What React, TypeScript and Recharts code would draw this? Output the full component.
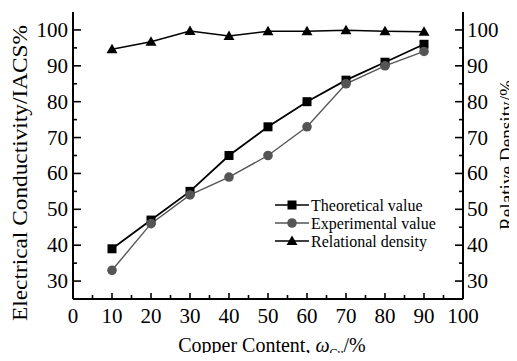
import React from "react";
import { LineChart, Line, XAxis, YAxis, Legend } from "recharts";

// copper content (x) and the three measured series
const copperContent = [10, 20, 30, 40, 50, 60, 70, 80, 90];
const theoreticalValue = [39, 47, 55, 65, 73, 80, 86, 91, 96];
const experimentalValue = [33, 46, 54, 59, 65, 73, 85, 90, 94];
const relationalDensity = [94.6, 96.7, 99.7, 98.3, 99.6, 99.6, 99.9, 99.6, 99.5];

// ticks (majors every 10, minors every 5)
const xTicks = [0, 5, 10, 15, 20, 25, 30, 35, 40, 45, 50, 55, 60, 65, 70, 75, 80, 85, 90, 95, 100];
const yTicks = [30, 35, 40, 45, 50, 55, 60, 65, 70, 75, 80, 85, 90, 95, 100];

const FONT = "'Liberation Serif', 'Times New Roman', Times, serif";
const GRAY = "#555555";
const txt = { fontFamily: FONT };

const data = copperContent.map((c, i) => ({
  cu: c,
  theo: theoreticalValue[i],
  exp: experimentalValue[i],
  rel: relationalDensity[i],
}));

const legendItems = [
  { name: "Theoretical value", color: "#000", shape: "square" },
  { name: "Experimental value", color: GRAY, shape: "circle" },
  { name: "Relational density", color: "#000", shape: "triangle" },
];

function marker(shape: string, cx: number, cy: number, color: string, key?: any) {
  if (shape === "square")
    return <rect key={key} x={cx - 4.5} y={cy - 4.5} width={9} height={9} fill={color} />;
  if (shape === "circle") return <circle key={key} cx={cx} cy={cy} r={4.8} fill={color} />;
  return (
    <polygon
      key={key}
      points={`${cx},${cy - 5.5} ${cx - 5.5},${cy + 4} ${cx + 5.5},${cy + 4}`}
      fill={color}
    />
  );
}

const XTick = (props: any) => {
  const { x, y, payload } = props;
  const major = payload.value % 10 === 0;
  return (
    <g>
      <line x1={x} y1={y} x2={x} y2={y - (major ? 6 : 4)} stroke="#000" strokeWidth={1.6} />
      {major && (
        <text x={x} y={y + 24} textAnchor="middle" fontSize={21} style={txt} fill="#000">
          {payload.value}
        </text>
      )}
    </g>
  );
};

const LeftTick = (props: any) => {
  const { x, y, payload } = props;
  const major = payload.value % 10 === 0;
  return (
    <g>
      <line x1={x} y1={y} x2={x + (major ? 8 : 4)} y2={y} stroke="#000" strokeWidth={1.6} />
      {major && (
        <text x={x - 5} y={y + 7} textAnchor="end" fontSize={21} style={txt} fill="#000">
          {payload.value}
        </text>
      )}
    </g>
  );
};

const RightTick = (props: any) => {
  const { x, y, payload } = props;
  const major = payload.value % 10 === 0;
  return (
    <g>
      <line x1={x} y1={y} x2={x - (major ? 8 : 4)} y2={y} stroke="#000" strokeWidth={1.6} />
      {major && (
        <text x={x + 4} y={y + 7} textAnchor="start" fontSize={21} style={txt} fill="#000">
          {payload.value}
        </text>
      )}
    </g>
  );
};

const LegendBox = () => (
  <svg width={210} height={60} style={{ display: "block" }}>
    {legendItems.map((it, i) => {
      const cy = 10 + i * 18;
      return (
        <g key={it.name}>
          <line x1={3} y1={cy} x2={37} y2={cy} stroke={it.color} strokeWidth={1.6} />
          {marker(it.shape, 20, cy, it.color)}
          <text x={39} y={cy + 5.5} fontSize={16} style={txt} fill="#000">
            {it.name}
          </text>
        </g>
      );
    })}
  </svg>
);

export default function App() {
  return (
    <div style={{ margin: -8, background: "#fff", fontFamily: FONT }}>
      <LineChart width={517} height={361} data={data} margin={{ top: 12, right: 0, bottom: 0, left: 0 }}>
        <XAxis
          dataKey="cu"
          type="number"
          domain={[0, 100]}
          ticks={xTicks}
          interval={0}
          height={62}
          tickSize={0}
          tickMargin={0}
          tickLine={false}
          tick={<XTick />}
          axisLine={{ stroke: "#000", strokeWidth: 2 }}
          label={() => (
            <text x={272} y={352} textAnchor="middle" fontSize={20} style={txt} fill="#000">
              Copper Content,{" "}
              <tspan fontStyle="italic">ω</tspan>
              <tspan fontSize={12} dy={5}>Cu</tspan>
              <tspan dy={-5}>/%</tspan>
            </text>
          )}
        />
        <XAxis
          xAxisId="top"
          dataKey="cu"
          type="number"
          domain={[0, 100]}
          orientation="top"
          height={0}
          tick={false}
          tickLine={false}
          axisLine={{ stroke: "#000", strokeWidth: 2 }}
        />
        <YAxis
          yAxisId="left"
          type="number"
          domain={[25, 105]}
          ticks={yTicks}
          interval={0}
          width={73}
          tickSize={0}
          tickMargin={0}
          tickLine={false}
          tick={<LeftTick />}
          axisLine={{ stroke: "#000", strokeWidth: 2 }}
          label={() => (
            <text
              transform="translate(27,173) rotate(-90)"
              textAnchor="middle"
              fontSize={21}
              style={txt}
              fill="#000"
              textLength={296}
              lengthAdjust="spacingAndGlyphs"
            >
              Electrical Conductivity/IACS%
            </text>
          )}
        />
        <YAxis
          yAxisId="right"
          orientation="right"
          type="number"
          domain={[25, 105]}
          ticks={yTicks}
          interval={0}
          width={54}
          tickSize={0}
          tickMargin={0}
          tickLine={false}
          tick={<RightTick />}
          axisLine={{ stroke: "#000", strokeWidth: 2 }}
          label={() => (
            <text
              transform="translate(513,155) rotate(-90)"
              textAnchor="middle"
              fontSize={18}
              style={txt}
              fill="#000"
              textLength={150}
              lengthAdjust="spacingAndGlyphs"
            >
              Relative Density/%
            </text>
          )}
        />
        <Legend
          layout="vertical"
          align="center"
          verticalAlign="middle"
          content={<LegendBox />}
          wrapperStyle={{ position: "absolute", left: 272, top: 195, width: 210, height: 60 }}
        />
        <Line
          yAxisId="left"
          dataKey="theo"
          stroke="#000"
          strokeWidth={1.8}
          isAnimationActive={false}
          activeDot={false}
          dot={(p: any) => marker("square", p.cx, p.cy, "#000", p.index)}
        />
        <Line
          yAxisId="left"
          dataKey="exp"
          stroke={GRAY}
          strokeWidth={1.4}
          isAnimationActive={false}
          activeDot={false}
          dot={(p: any) => marker("circle", p.cx, p.cy, GRAY, p.index)}
        />
        <Line
          yAxisId="right"
          dataKey="rel"
          stroke="#000"
          strokeWidth={1.5}
          isAnimationActive={false}
          activeDot={false}
          dot={(p: any) => marker("triangle", p.cx, p.cy, "#000", p.index)}
        />
      </LineChart>
    </div>
  );
}
